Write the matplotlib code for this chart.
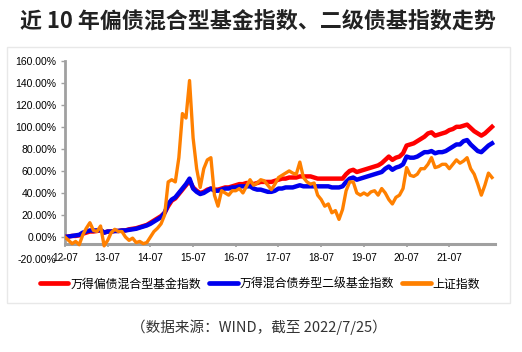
import numpy as np
import matplotlib
matplotlib.use("Agg")
import matplotlib.pyplot as plt
from matplotlib.patches import Rectangle
from matplotlib.lines import Line2D
from matplotlib.ticker import FuncFormatter

# Monthly values (%) from 2012-07 to 2022-07
red_vals = [0, 0.5, 1, 1, 1.5, 3,
            4, 5, 5, 5.5, 6, 4, 5, 5, 5.5, 5.5, 6, 6,
            7, 7.5, 8, 9, 10, 11, 13, 15, 17, 19, 22, 28,
            33, 35, 39, 43, 47, 51, 45, 42, 40, 41, 43, 44,
            43, 43, 44, 45, 45, 46, 47, 48, 48, 49, 49, 48,
            49, 50, 50, 50, 50, 51, 52, 53, 53, 54, 54, 54,
            55, 55, 55, 55, 54, 53, 53, 53, 53, 53, 53, 53,
            53, 57, 60, 61, 59, 60, 61, 62, 63, 64, 65, 67,
            70, 73, 70, 72, 73, 76, 83, 84, 85, 87, 89, 91,
            94, 95, 92, 93, 94, 95, 97, 98, 100, 100, 101, 102,
            99, 96, 94, 92, 94, 97, 100]
blue_vals = [0, 0.5, 1, 1.5, 2, 4,
             5, 6, 6, 6, 6.5, 4, 5, 5, 5.5, 5.5, 6, 6,
             6.5, 7, 7.5, 8.5, 9.5, 10.5, 12, 14, 16, 18, 22, 30,
             34, 36, 40, 44, 48, 53, 44, 41, 39, 40, 42, 44,
             42, 42, 43, 44, 44, 45, 45, 46, 46, 46, 46, 44,
             43, 43, 42, 41, 41, 42, 44, 44, 45, 45, 45, 46,
             47, 46, 46, 46, 46, 46, 46, 46, 46, 45, 45, 45,
             46, 50, 53, 54, 52, 53, 54, 55, 56, 57, 58, 59,
             62, 64, 61, 63, 64, 66, 73, 72, 72, 73, 75, 77,
             77, 78, 76, 77, 77, 78, 80, 82, 84, 84, 87, 88,
             84, 81, 78, 77, 80, 83, 85]
orange_vals = [0, -3, -6, -4, -7, 2,
               8, 13, 6, 5, 10, -8, -3, 4, 7, 5, 5, 0,
               -3, -1, -5, -4, -6, -5, 0, 5, 8, 12, 20, 50,
               52, 50, 72, 112, 108, 142, 90, 62, 45, 62, 70, 72,
               38, 28, 42, 40, 38, 42, 42, 44, 40, 46, 52, 47,
               49, 52, 51, 47, 43, 48, 54, 56, 58, 60, 58, 57,
               68, 54, 50, 48, 49, 38, 34, 28, 30, 22, 24, 16,
               25, 42, 50, 50, 40, 38, 40, 38, 41, 42, 38, 44,
               40, 34, 30, 36, 38, 44, 63, 56, 55, 57, 62, 62,
               66, 72, 63, 64, 66, 66, 62, 66, 70, 67, 69, 72,
               62, 57, 48, 38, 47, 58, 54]

series_names = ["万得偏债混合型基金指数", "万得混合债券型二级基金指数", "上证指数"]
x_tick_labels = ["12-07", "13-07", "14-07", "15-07", "16-07", "17-07",
                 "18-07", "19-07", "20-07", "21-07"]
y_ticks = [-20, 0, 20, 40, 60, 80, 100, 120, 140, 160]

title = "近 10 年偏债混合型基金指数、二级债基指数走势"
note = "（数据来源：WIND，截至 2022/7/25）"

fig = plt.figure(figsize=(5.22, 3.52), dpi=100)
fig.patch.set_facecolor("white")

# outer frame
fig.add_artist(Rectangle((0.0134, 0.139), 0.9636, 0.727, transform=fig.transFigure,
                         fill=False, edgecolor="#e8e8e8", lw=1.0))

ax = fig.add_axes([0.1245, 0.264, 0.8235, 0.5636])
months = np.arange(len(red_vals))
ax.plot(months, red_vals, color="#ff0000", lw=3.2, solid_joinstyle="round", zorder=3)
ax.plot(months, blue_vals, color="#0000ee", lw=3.2, solid_joinstyle="round", zorder=4)
ax.plot(months, orange_vals, color="#ff8000", lw=2.4, solid_joinstyle="round", zorder=5)

ax.set_xlim(0, 120.8)
ax.set_ylim(-20, 160)
ax.set_yticks(y_ticks)
ax.yaxis.set_major_formatter(FuncFormatter(lambda v, p: f"{v:.2f}%"))
ax.set_xticks(np.arange(0, 12 * len(x_tick_labels), 12))
ax.set_xticklabels(x_tick_labels)

for s in ["top", "right"]:
    ax.spines[s].set_visible(False)
ax.spines["left"].set_color("#a0a0a0")
ax.spines["left"].set_linewidth(2.0)
ax.spines["left"].set_bounds(-6, 160)
ax.spines["bottom"].set_color("#a0a0a0")
ax.spines["bottom"].set_linewidth(2.2)
ax.spines["bottom"].set_position(("data", -6))
ax.tick_params(axis="y", length=3, width=1, color="#a0a0a0", pad=3)
ax.tick_params(axis="x", length=2, width=1.2, color="#a0a0a0", pad=5)
for lab in ax.get_yticklabels():
    lab.set_fontfamily("Liberation Sans")
    lab.set_fontsize(7.5)
for lab in ax.get_xticklabels():
    lab.set_fontfamily("Liberation Sans")
    lab.set_fontsize(7.3)

fig.text(258 / 522, 1 - 22 / 352, title, ha="center", va="center", fontsize=15.8,
         fontweight="bold", family=["Noto Sans CJK SC", "DejaVu Sans"], color="#222222")

handles = [Line2D([], [], color=c, lw=3.4, solid_capstyle="round")
           for c in ["#ff0000", "#0000ee", "#ff8000"]]
fig.legend(handles, series_names, loc="center", bbox_to_anchor=(260 / 522, 1 - 284 / 352),
           ncol=3, frameon=False, handlelength=2.4, handletextpad=0.15,
           columnspacing=0.7, prop={"family": "Noto Sans CJK SC", "size": 8.6})

fig.text(259 / 522, 1 - 327 / 352, note, ha="center", va="center", fontsize=10.5,
         family=["Noto Sans CJK SC", "DejaVu Sans"], color="#333333")

fig.savefig("out.png", dpi=100, facecolor="white")
